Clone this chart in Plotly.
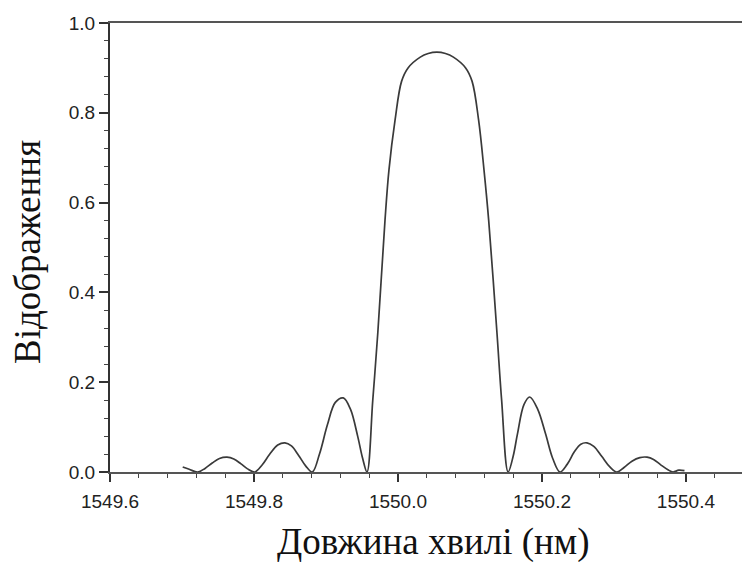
import plotly.graph_objects as go

# Wavelength (nm) and reflection values
wavelength = [
    1549.701, 1549.710, 1549.722, 1549.732, 1549.742, 1549.752, 1549.7625, 1549.772, 1549.782, 1549.791,
    1549.801, 1549.811, 1549.822, 1549.833, 1549.843, 1549.852, 1549.862, 1549.872,
    1549.881, 1549.891, 1549.902, 1549.913, 1549.924, 1549.934, 1549.944, 1549.951,
    1549.957, 1549.965, 1549.972, 1549.982, 1549.9875, 1549.996, 1550.005, 1550.014, 1550.031, 1550.042,
    1550.054,
    1550.066, 1550.077, 1550.094, 1550.103, 1550.112, 1550.1195, 1550.126, 1550.1375, 1550.144,
    1550.153, 1550.160, 1550.166, 1550.175, 1550.183, 1550.194, 1550.205, 1550.215,
    1550.225, 1550.235, 1550.245, 1550.254, 1550.2625, 1550.272, 1550.283, 1550.294,
    1550.304, 1550.314, 1550.325, 1550.336, 1550.346, 1550.355, 1550.365, 1550.375,
    1550.382, 1550.390, 1550.398,
]
reflection = [
    0.011, 0.006, 0.000, 0.008, 0.020, 0.030, 0.033, 0.029, 0.018, 0.007,
    0.000, 0.015, 0.040, 0.060, 0.065, 0.058, 0.037, 0.013,
    0.000, 0.040, 0.105, 0.155, 0.165, 0.140, 0.080, 0.030,
    0.000, 0.160, 0.310, 0.561, 0.673, 0.784, 0.870, 0.900, 0.924, 0.932,
    0.935,
    0.932, 0.924, 0.900, 0.870, 0.784, 0.673, 0.561, 0.310, 0.160,
    0.000, 0.035, 0.085, 0.150, 0.167, 0.140, 0.085, 0.030,
    0.000, 0.017, 0.045, 0.062, 0.065, 0.057, 0.035, 0.012,
    0.000, 0.010, 0.024, 0.032, 0.033, 0.028, 0.016, 0.005,
    0.000, 0.004, 0.003,
]

x_tick_vals = [1549.6, 1549.8, 1550.0, 1550.2, 1550.4]
x_tick_text = ["1549.6", "1549.8", "1550.0", "1550.2", "1550.4"]
y_tick_vals = [0.0, 0.2, 0.4, 0.6, 0.8, 1.0]
y_tick_text = ["0.0", "0.2", "0.4", "0.6", "0.8", "1.0"]

x_title = "Довжина хвилі (нм)"
y_title = "Відображення"

fig = go.Figure()
fig.add_trace(go.Scatter(
    x=wavelength, y=reflection, mode="lines",
    line=dict(color="#3a3a3a", width=1.7, shape="spline", smoothing=1.0),
    showlegend=False, hoverinfo="skip",
))

tick_font = dict(family="Liberation Sans, Arial, sans-serif", size=19, color="#222222")
title_font = dict(family="Liberation Serif, Times New Roman, serif", size=37, color="#111111")

# The page body has an 8px default margin, so the figure is 8px smaller on each side
fig.update_layout(
    width=742, height=554,
    margin=dict(l=102, r=0, t=15, b=90),
    paper_bgcolor="white", plot_bgcolor="white",
    xaxis=dict(
        range=[1549.6, 1550.489], tickvals=x_tick_vals, ticktext=x_tick_text,
        ticks="outside", ticklen=8, tickwidth=1.5, tickcolor="#333333",
        showline=True, linecolor="#555555", linewidth=2, mirror=True,
        showgrid=False, zeroline=False, tickfont=tick_font,
        ticklabelstandoff=3, automargin=False,
        minor=dict(dtick=0.04, tick0=1549.6, ticks="outside", ticklen=4,
                   tickwidth=1.2, tickcolor="#444444", showgrid=False),
    ),
    yaxis=dict(
        range=[0, 1.0], tickvals=y_tick_vals, ticktext=y_tick_text,
        ticks="outside", ticklen=9, tickwidth=1.5, tickcolor="#333333",
        showline=True, linecolor="#333333", linewidth=2,
        showgrid=False, zeroline=False, tickfont=tick_font, automargin=False,
        minor=dict(dtick=0.04, tick0=0, ticks="outside", ticklen=4,
                   tickwidth=1.2, tickcolor="#444444", showgrid=False),
    ),
    annotations=[
        dict(text=x_title, xref="paper", yref="paper", x=0.505, y=0,
             xanchor="center", yanchor="middle", yshift=-70,
             showarrow=False, font=title_font),
        dict(text=y_title, xref="paper", yref="paper", x=0, y=0.49,
             xanchor="center", yanchor="middle", xshift=-82, textangle=-90,
             showarrow=False, font=title_font),
    ],
)

fig.write_html("out.html")
